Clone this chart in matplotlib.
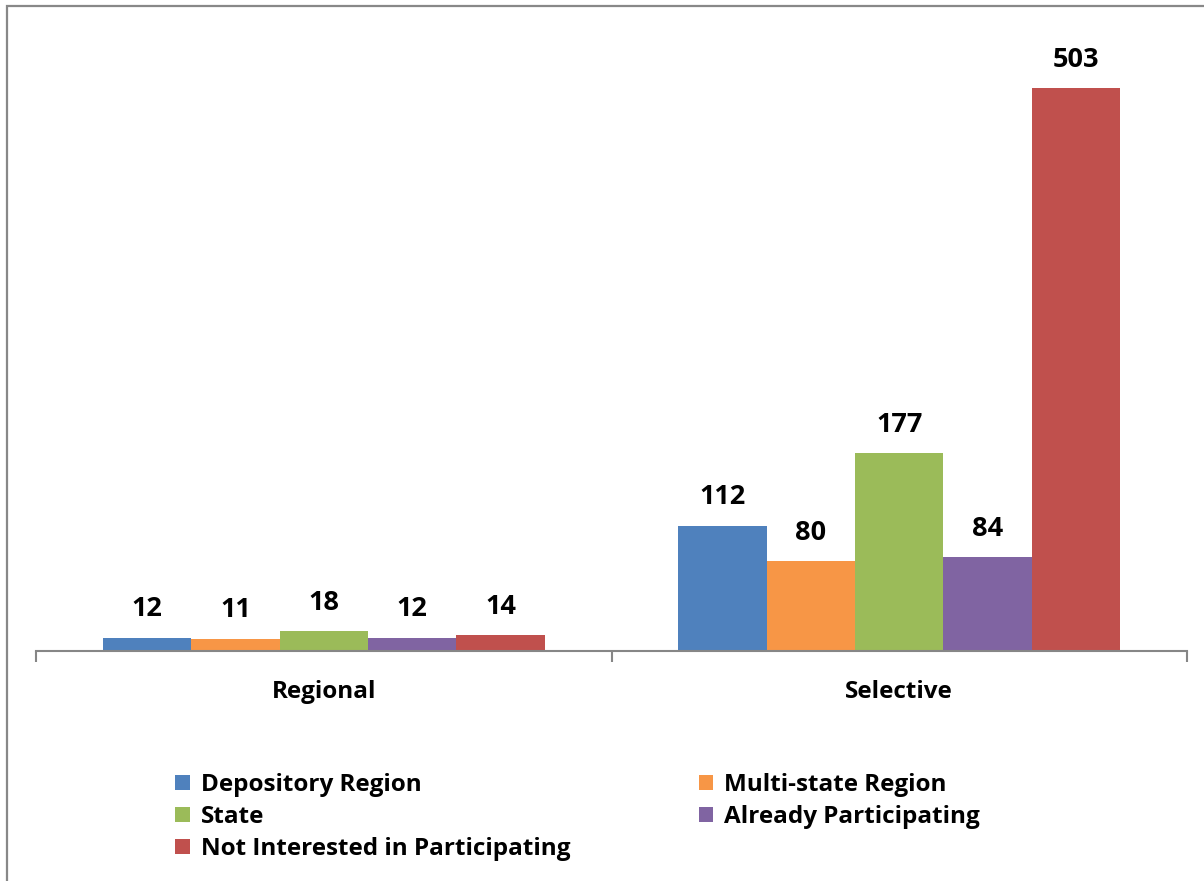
import matplotlib
matplotlib.use("Agg")
import matplotlib.pyplot as plt
import numpy as np
from matplotlib.patches import Rectangle, Patch

categories = ["Regional", "Selective"]
series_names = ["Depository Region", "Multi-state Region", "State",
                "Already Participating", "Not Interested in Participating"]
series_values = [
    [12, 112],
    [11, 80],
    [18, 177],
    [12, 84],
    [14, 503],
]
colors = ["#4F81BD", "#F79646", "#9BBB59", "#8064A2", "#C0504D"]

plt.rcParams["font.family"] = ["Open Sans", "DejaVu Sans"]

W, H = 1204, 881
fig = plt.figure(figsize=(W / 100, H / 100), dpi=100)

# chart-area border (left and top edges visible)
fig.patches.append(Rectangle((7 / W, -0.1), 1.2, (H - 6) / H + 0.1,
                             transform=fig.transFigure, fill=False,
                             edgecolor="#888888", linewidth=1.6, zorder=0))

ymax = 560
px_per_unit = 563 / 503
ax = fig.add_axes([36 / W, (H - 651) / H, 1151 / W, ymax * px_per_unit / H])
ax.set_ylim(0, ymax)
ax.set_xlim(-0.5, 1.5)

n = len(series_names)
group_w = 0.768
bw = group_w / n
x = np.arange(len(categories))
handles = []
for i, (name, vals, c) in enumerate(zip(series_names, series_values, colors)):
    pos = x - group_w / 2 + bw * (i + 0.5)
    bars = ax.bar(pos, vals, width=bw, color=c, label=name, zorder=2)
    ax.bar_label(bars, labels=[str(v) for v in vals], padding=11,
                 fontsize=19.5, fontweight="bold", color="black")
    handles.append(Patch(facecolor=c, label=name))

for s in ["left", "top", "right"]:
    ax.spines[s].set_visible(False)
ax.spines["bottom"].set_color("#868686")
ax.spines["bottom"].set_linewidth(1.5)
ax.set_yticks([])
ax.set_xticks([-0.5, 0.5, 1.5])
ax.set_xticklabels([])
ax.tick_params(axis="x", which="major", length=8, width=1.5, color="#868686", direction="out")
ax.set_xticks(x, minor=True)
ax.set_xticklabels(categories, minor=True, fontsize=17.5, fontweight="bold")
ax.tick_params(axis="x", which="minor", length=0, pad=21)

order = [0, 2, 4, 1, 3]
leg = fig.legend([handles[i] for i in order], [series_names[i] for i in order],
                 ncol=2, loc="upper left", bbox_to_anchor=(175 / W, 1 - 773 / H),
                 frameon=False, handlelength=0.6, handleheight=0.6,
                 handletextpad=0.45, labelspacing=0.33, columnspacing=5.3,
                 borderaxespad=0, borderpad=0,
                 prop={"size": 17.5, "weight": "bold"})

fig.savefig("out.png", dpi=100)
